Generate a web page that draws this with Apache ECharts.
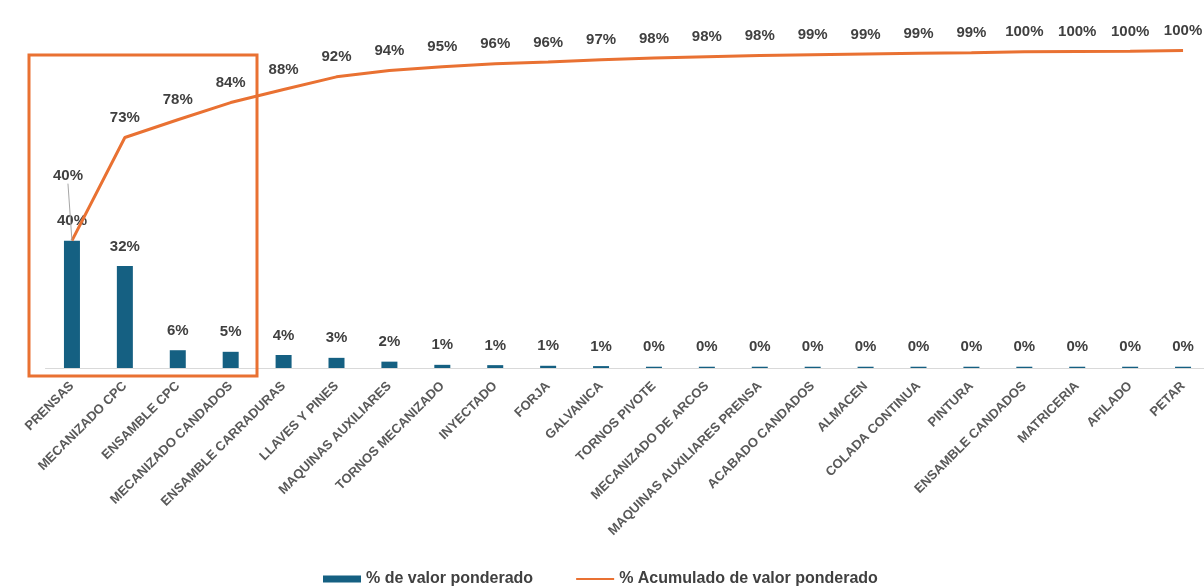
<!DOCTYPE html>
<html>
<head>
<meta charset="utf-8">
<script src="https://cdn.jsdelivr.net/npm/echarts@6/dist/echarts.min.js"></script>
<style>
  html, body { margin: 0; padding: 0; background: #ffffff; }
  #chart { width: 1204px; height: 586px; }
</style>
</head>
<body>
<div id="chart"></div>
<script>
// Areas ranked by weighted value (Pareto)
const categories = [
  'PRENSAS', 'MECANIZADO CPC', 'ENSAMBLE CPC', 'MECANIZADO CANDADOS',
  'ENSAMBLE CARRADURAS', 'LLAVES Y PINES', 'MAQUINAS AUXILIARES',
  'TORNOS MECANIZADO', 'INYECTADO', 'FORJA', 'GALVANICA', 'TORNOS PIVOTE',
  'MECANIZADO DE ARCOS', 'MAQUINAS AUXILIARES PRENSA', 'ACABADO CANDADOS',
  'ALMACEN', 'COLADA CONTINUA', 'PINTURA', 'ENSAMBLE CANDADOS',
  'MATRICERIA', 'AFILADO', 'PETAR'
];

// Share of weighted value per area
const shareValues = [
  0.401, 0.321, 0.056, 0.051, 0.041, 0.032, 0.020, 0.010, 0.009, 0.007, 0.006,
  0.004, 0.004, 0.004, 0.004, 0.004, 0.004, 0.004, 0.004, 0.004, 0.004, 0.004
];

// Cumulative share of weighted value
const cumulativeValues = [
  0.401, 0.726, 0.782, 0.836, 0.877, 0.917, 0.937, 0.949, 0.958, 0.964, 0.971,
  0.976, 0.980, 0.984, 0.987, 0.989, 0.991, 0.993, 0.996, 0.997, 0.998, 1.000
];

const seriesNames = ['% de valor ponderado', '% Acumulado de valor ponderado'];

const BAR_COLOR = '#156082';
const LINE_COLOR = '#E97132';
const LABEL_COLOR = '#404040';

const pct = (p) => Math.round(p.value * 100) + '%';

const chart = echarts.init(document.getElementById('chart'), null, { renderer: 'canvas' });

chart.setOption({
  animation: false,
  backgroundColor: '#ffffff',
  textStyle: { fontFamily: 'Liberation Sans, Arial, sans-serif' },
  grid: {
    left: 45.5,
    width: 1164,
    top: 50.5,
    bottom: 218,
    containLabel: false,
    outerBoundsMode: 'none'
  },
  legend: {
    data: [
      { name: seriesNames[0], icon: 'rect' },
      { name: seriesNames[1], itemStyle: { opacity: 0 } }
    ],
    left: 318,
    top: 566,
    itemWidth: 38,
    itemHeight: 7,
    itemGap: 42,
    textStyle: { color: LABEL_COLOR, fontSize: 16, fontWeight: 'bold' }
  },
  xAxis: {
    type: 'category',
    data: categories,
    axisLine: { show: true, lineStyle: { color: '#d9d9d9', width: 1 } },
    axisTick: { show: false },
    axisLabel: {
      interval: 0,
      rotate: 45,
      margin: 16,
      color: '#595959',
      fontSize: 13,
      fontWeight: 'bold'
    },
    splitLine: { show: false }
  },
  yAxis: {
    type: 'value',
    min: 0,
    max: 1,
    show: false,
    splitLine: { show: false }
  },
  series: [
    {
      name: seriesNames[0],
      type: 'bar',
      data: shareValues,
      barWidth: 16,
      itemStyle: { color: BAR_COLOR },
      label: {
        show: true,
        position: 'top',
        distance: 12,
        formatter: pct,
        color: LABEL_COLOR,
        fontSize: 15,
        fontWeight: 'bold'
      },
      z: 2
    },
    {
      name: seriesNames[1],
      type: 'line',
      data: cumulativeValues.map((v, i) =>
        i === 0 ? { value: v, labelLine: { show: true, lineStyle: { color: '#a6a6a6', width: 1 } } } : v
      ),
      symbol: 'circle',
      symbolSize: 0.1,
      lineStyle: { color: LINE_COLOR, width: 3 },
      itemStyle: { color: LINE_COLOR },
      label: {
        show: true,
        position: 'top',
        distance: 12,
        formatter: pct,
        color: LABEL_COLOR,
        fontSize: 15,
        fontWeight: 'bold'
      },
      labelLayout: (params) => (params.dataIndex === 0 ? { dx: -4, dy: -45 } : {}),
      z: 3
    }
  ],
  graphic: [
    {
      // highlight frame around the first four areas
      type: 'rect',
      shape: { x: 29, y: 55, width: 228, height: 321 },
      style: { fill: 'none', stroke: LINE_COLOR, lineWidth: 3 },
      z: 10
    }
  ]
});
</script>
</body>
</html>
